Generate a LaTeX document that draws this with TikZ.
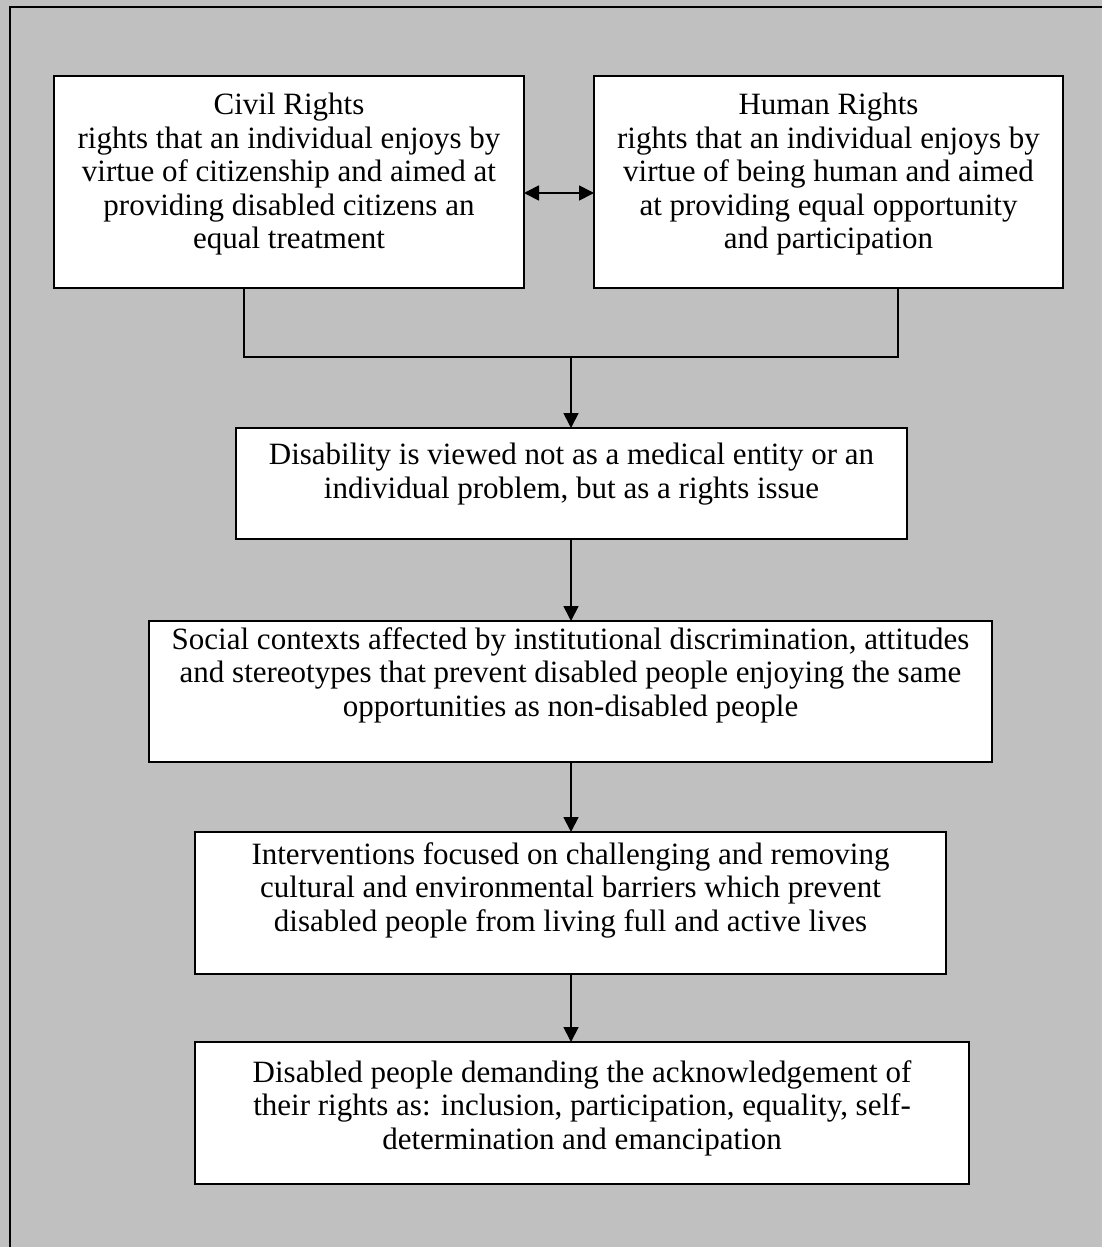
\documentclass[tikz,border=0pt]{standalone}
\usepackage{fontspec}
\setmainfont{Liberation Serif}
\usetikzlibrary{arrows.meta}
\definecolor{bggray}{RGB}{192,192,192}
\tikzset{
  box/.style={draw=black, fill=white, line width=1.8pt, inner sep=0pt, outer sep=0pt, anchor=north west},
  txt/.style={align=center, inner sep=0pt, anchor=north,
    font=\fontsize{31}{33.5}\selectfont},
  conn/.style={draw=black, line width=1.8pt},
  arr/.style={conn, -{Triangle[length=15pt,width=15pt]}},
  darr/.style={conn, {Triangle[length=15pt,width=15pt]}-{Triangle[length=15pt,width=15pt]}},
}
\begin{document}
\begin{tikzpicture}[x=1pt,y=-1pt]
\useasboundingbox (0,0) rectangle (1102,1247);
\fill[bggray] (0,0) rectangle (1102,1247);
\draw[line width=2.5pt] (10,1247) -- (10,7) -- (1102,7);

% boxes
\node[box, minimum width=470pt, minimum height=212pt] (civil) at (54,76) {};
\node[box, minimum width=469pt, minimum height=212pt] (human) at (594,76) {};
\node[box, minimum width=671pt, minimum height=111pt] (view) at (236,428) {};
\node[box, minimum width=843pt, minimum height=141pt] (social) at (149,621) {};
\node[box, minimum width=751pt, minimum height=142pt] (interv) at (195,832) {};
\node[box, minimum width=774pt, minimum height=142pt] (demand) at (195,1042) {};

% texts
\node[txt] (civiltxt) at ([yshift=-17pt]civil.north)
  {Civil Rights\\rights that an individual enjoys by\\virtue of citizenship and aimed at\\providing disabled citizens an\\equal treatment};
\node[txt] (humantxt) at ([yshift=-17pt]human.north)
  {Human Rights\\rights that an individual enjoys by\\virtue of being human and aimed\\at providing equal opportunity\\and participation};
\node[txt] (viewtxt) at ([yshift=-15pt]view.north)
  {Disability is viewed not as a medical entity or an\\individual problem, but as a rights issue};
\node[txt] (socialtxt) at ([yshift=-6pt]social.north)
  {Social contexts affected by institutional discrimination, attitudes\\and stereotypes that prevent disabled people enjoying the same\\opportunities as non-disabled people};
\node[txt] (intervtxt) at ([yshift=-10pt]interv.north)
  {Interventions focused on challenging and removing\\cultural and environmental barriers which prevent\\disabled people from living full and active lives};
\node[txt] (demandtxt) at ([yshift=-18pt]demand.north)
  {Disabled people demanding the acknowledgement of\\their rights as: inclusion, participation, equality, self-\\determination and emancipation};

% connectors
\draw[darr] (civil.east |- 0,193) -- (human.west |- 0,193);
\coordinate (bl) at (244,357);
\coordinate (br) at (898,357);
\coordinate (bm) at (571,357);
\draw[conn] (civil.south -| bl) -- (bl) -- (br) -- (human.south -| br);
\draw[arr] (bm) -- (bm |- view.north);
\draw[arr] (view.south -| bm) -- (social.north -| bm);
\draw[arr] (social.south -| bm) -- (interv.north -| bm);
\draw[arr] (interv.south -| bm) -- (demand.north -| bm);
\end{tikzpicture}
\end{document}
